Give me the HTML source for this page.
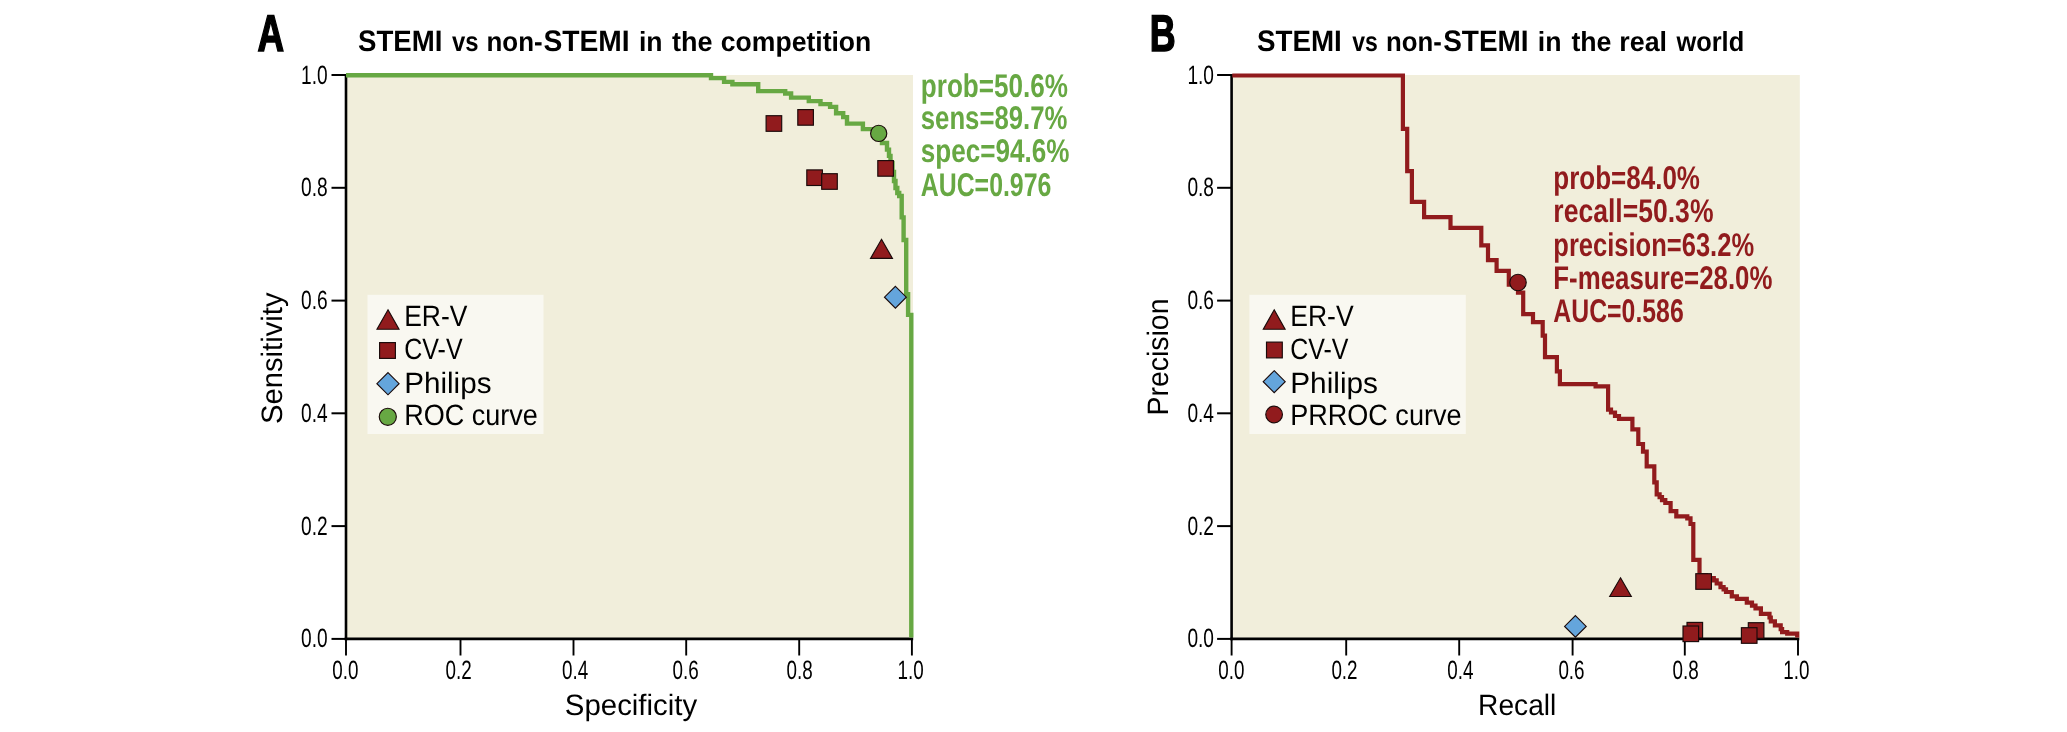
<!DOCTYPE html>
<html><head><meta charset="utf-8"><title>STEMI ROC / PR curves</title>
<style>html,body{margin:0;padding:0;background:#fff;}svg{display:block;will-change:transform;text-rendering:geometricPrecision;}</style>
</head><body>
<svg width="2067" height="732" viewBox="0 0 2067 732">
<rect width="2067" height="732" fill="#fff"/>
<rect x="347.0" y="75" width="566.0" height="562.9" fill="#f1eedb"/>
<rect x="367.5" y="294.8" width="176" height="139.2" fill="#f9f8f1"/>
<line x1="346.0" y1="74" x2="346.0" y2="640.2" stroke="#000" stroke-width="2.6"/>
<line x1="344.7" y1="638.9" x2="913.1999999999999" y2="638.9" stroke="#000" stroke-width="2.6"/>
<line x1="331.5" y1="638.9" x2="346.0" y2="638.9" stroke="#000" stroke-width="2"/>
<text x="327.6" y="647.4" font-family='"Liberation Sans", Arial, sans-serif' font-size="26.5" font-weight="normal" fill="#000" text-anchor="end" textLength="26.6" lengthAdjust="spacingAndGlyphs">0.0</text>
<line x1="346.0" y1="638.9" x2="346.0" y2="655.5" stroke="#000" stroke-width="1.9"/>
<text x="345.4" y="679" font-family='"Liberation Sans", Arial, sans-serif' font-size="26.5" font-weight="normal" fill="#000" text-anchor="middle" textLength="26.2" lengthAdjust="spacingAndGlyphs">0.0</text>
<line x1="331.5" y1="526.1" x2="346.0" y2="526.1" stroke="#000" stroke-width="2"/>
<text x="327.6" y="534.6" font-family='"Liberation Sans", Arial, sans-serif' font-size="26.5" font-weight="normal" fill="#000" text-anchor="end" textLength="26.6" lengthAdjust="spacingAndGlyphs">0.2</text>
<line x1="460.5" y1="638.9" x2="460.5" y2="655.5" stroke="#000" stroke-width="1.9"/>
<text x="458.6" y="679" font-family='"Liberation Sans", Arial, sans-serif' font-size="26.5" font-weight="normal" fill="#000" text-anchor="middle" textLength="26.2" lengthAdjust="spacingAndGlyphs">0.2</text>
<line x1="331.5" y1="413.3" x2="346.0" y2="413.3" stroke="#000" stroke-width="2"/>
<text x="327.6" y="421.8" font-family='"Liberation Sans", Arial, sans-serif' font-size="26.5" font-weight="normal" fill="#000" text-anchor="end" textLength="26.6" lengthAdjust="spacingAndGlyphs">0.4</text>
<line x1="573.5" y1="638.9" x2="573.5" y2="655.5" stroke="#000" stroke-width="1.9"/>
<text x="575.2" y="679" font-family='"Liberation Sans", Arial, sans-serif' font-size="26.5" font-weight="normal" fill="#000" text-anchor="middle" textLength="26.2" lengthAdjust="spacingAndGlyphs">0.4</text>
<line x1="331.5" y1="300.6" x2="346.0" y2="300.6" stroke="#000" stroke-width="2"/>
<text x="327.6" y="309.1" font-family='"Liberation Sans", Arial, sans-serif' font-size="26.5" font-weight="normal" fill="#000" text-anchor="end" textLength="26.6" lengthAdjust="spacingAndGlyphs">0.6</text>
<line x1="686.2" y1="638.9" x2="686.2" y2="655.5" stroke="#000" stroke-width="1.9"/>
<text x="685.6" y="679" font-family='"Liberation Sans", Arial, sans-serif' font-size="26.5" font-weight="normal" fill="#000" text-anchor="middle" textLength="26.2" lengthAdjust="spacingAndGlyphs">0.6</text>
<line x1="331.5" y1="187.8" x2="346.0" y2="187.8" stroke="#000" stroke-width="2"/>
<text x="327.6" y="196.3" font-family='"Liberation Sans", Arial, sans-serif' font-size="26.5" font-weight="normal" fill="#000" text-anchor="end" textLength="26.6" lengthAdjust="spacingAndGlyphs">0.8</text>
<line x1="799.2" y1="638.9" x2="799.2" y2="655.5" stroke="#000" stroke-width="1.9"/>
<text x="799.6" y="679" font-family='"Liberation Sans", Arial, sans-serif' font-size="26.5" font-weight="normal" fill="#000" text-anchor="middle" textLength="26.2" lengthAdjust="spacingAndGlyphs">0.8</text>
<line x1="331.5" y1="75.0" x2="346.0" y2="75.0" stroke="#000" stroke-width="2"/>
<text x="327.6" y="83.5" font-family='"Liberation Sans", Arial, sans-serif' font-size="26.5" font-weight="normal" fill="#000" text-anchor="end" textLength="26.6" lengthAdjust="spacingAndGlyphs">1.0</text>
<line x1="911.9" y1="638.9" x2="911.9" y2="655.5" stroke="#000" stroke-width="1.9"/>
<text x="910.6" y="679" font-family='"Liberation Sans", Arial, sans-serif' font-size="26.5" font-weight="normal" fill="#000" text-anchor="middle" textLength="26.2" lengthAdjust="spacingAndGlyphs">1.0</text>
<path d="M346,75.2 H711 V78.1 H724.1 V81.9 H732.4 V84.3 H758.2 V91.1 H785.2 V93.5 H791.1 V97.6 H808.8 V101.1 H820.5 V104.1 H830.1 V106.9 H836.1 V113.2 H843.2 V117.1 H847 V123.6 H862.9 V129.1 H875 V136 H882 V143 H887 V149.6 H889 V155.9 H890.5 V163 H892.5 V172 H894 V181 H895.5 V188 H897.3 V193 H899.2 V196 H901.7 V217.4 H903.6 V240 H906.2 V294.1 H908.1 V314.9 H911.3 V637.6" fill="none" stroke="#67a843" stroke-width="4.4"/>
<rect x="766.10" y="115.70" width="15.6" height="15.6" fill="#911b1d" stroke="#1a0a0a" stroke-width="1.15"/>
<rect x="797.80" y="109.60" width="15.6" height="15.6" fill="#911b1d" stroke="#1a0a0a" stroke-width="1.15"/>
<rect x="806.80" y="169.90" width="15.6" height="15.6" fill="#911b1d" stroke="#1a0a0a" stroke-width="1.15"/>
<rect x="821.70" y="173.70" width="15.6" height="15.6" fill="#911b1d" stroke="#1a0a0a" stroke-width="1.15"/>
<rect x="877.80" y="160.60" width="15.6" height="15.6" fill="#911b1d" stroke="#1a0a0a" stroke-width="1.15"/>
<path d="M881.5,239.3 L892.45,258.4 L870.55,258.4 Z" fill="#911b1d" stroke="#1a0a0a" stroke-width="1.15" stroke-linejoin="miter"/>
<path d="M895.4,286.3 L906.3,297.2 L895.4,308.09999999999997 L884.5,297.2 Z" fill="#64a5dc" stroke="#1a0a0a" stroke-width="1.15"/>
<circle cx="878.7" cy="133.4" r="8.10" fill="#67a843" stroke="#1a0a0a" stroke-width="1.15"/>
<path d="M388.0,309.8 L399.0,329.2 L377.0,329.2 Z" fill="#911b1d" stroke="#1a0a0a" stroke-width="1.15" stroke-linejoin="miter"/>
<rect x="379.60" y="342.60" width="15.8" height="15.8" fill="#911b1d" stroke="#1a0a0a" stroke-width="1.15"/>
<path d="M388.0,372.59999999999997 L399.1,383.7 L388.0,394.8 L376.9,383.7 Z" fill="#64a5dc" stroke="#1a0a0a" stroke-width="1.15"/>
<circle cx="387.8" cy="416.8" r="8.55" fill="#67a843" stroke="#1a0a0a" stroke-width="1.15"/>
<text x="404.2" y="326.1" font-family='"Liberation Sans", Arial, sans-serif' font-size="29.5" font-weight="normal" fill="#000" text-anchor="start" textLength="63.2" lengthAdjust="spacingAndGlyphs">ER-V</text>
<text x="404.2" y="359.3" font-family='"Liberation Sans", Arial, sans-serif' font-size="29.5" font-weight="normal" fill="#000" text-anchor="start" textLength="58.4" lengthAdjust="spacingAndGlyphs">CV-V</text>
<text x="404.2" y="392.5" font-family='"Liberation Sans", Arial, sans-serif' font-size="29.5" font-weight="normal" fill="#000" text-anchor="start" textLength="87.3" lengthAdjust="spacingAndGlyphs">Philips</text>
<text x="404.2" y="424.9" font-family='"Liberation Sans", Arial, sans-serif' font-size="29.5" font-weight="normal" fill="#000" text-anchor="start" textLength="133.6" lengthAdjust="spacingAndGlyphs">ROC curve</text>
<text x="920.8" y="96.5" font-family='"Liberation Sans", Arial, sans-serif' font-size="32.8" font-weight="bold" fill="#67a843" text-anchor="start" textLength="147.2" lengthAdjust="spacingAndGlyphs">prob=50.6%</text>
<text x="920.8" y="128.9" font-family='"Liberation Sans", Arial, sans-serif' font-size="32.8" font-weight="bold" fill="#67a843" text-anchor="start" textLength="146.6" lengthAdjust="spacingAndGlyphs">sens=89.7%</text>
<text x="920.8" y="162.4" font-family='"Liberation Sans", Arial, sans-serif' font-size="32.8" font-weight="bold" fill="#67a843" text-anchor="start" textLength="148.6" lengthAdjust="spacingAndGlyphs">spec=94.6%</text>
<text x="920.8" y="196.2" font-family='"Liberation Sans", Arial, sans-serif' font-size="32.8" font-weight="bold" fill="#67a843" text-anchor="start" textLength="130.5" lengthAdjust="spacingAndGlyphs">AUC=0.976</text>
<text x="257.6" y="51.0" font-family='"Liberation Sans", Arial, sans-serif' font-size="51.5" font-weight="bold" fill="#000" text-anchor="start" textLength="26.6" lengthAdjust="spacingAndGlyphs" stroke="#000" stroke-width="1.6">A</text>
<text x="357.97" y="50.7" font-family='"Liberation Sans", Arial, sans-serif' font-size="29.6" font-weight="bold" fill="#000" text-anchor="start" textLength="84.41" lengthAdjust="spacingAndGlyphs">STEMI</text>
<text x="452.0" y="50.7" font-family='"Liberation Sans", Arial, sans-serif' font-size="27.6" font-weight="bold" fill="#000" text-anchor="start" textLength="26.57" lengthAdjust="spacingAndGlyphs">vs</text>
<text x="486.52" y="50.7" font-family='"Liberation Sans", Arial, sans-serif' font-size="27.6" font-weight="bold" fill="#000" text-anchor="start" textLength="56.1" lengthAdjust="spacingAndGlyphs">non-</text>
<text x="543.45" y="50.7" font-family='"Liberation Sans", Arial, sans-serif' font-size="29.6" font-weight="bold" fill="#000" text-anchor="start" textLength="86.18" lengthAdjust="spacingAndGlyphs">STEMI</text>
<text x="638.98" y="50.7" font-family='"Liberation Sans", Arial, sans-serif' font-size="27.6" font-weight="bold" fill="#000" text-anchor="start" textLength="23.6" lengthAdjust="spacingAndGlyphs">in</text>
<text x="672.0" y="50.7" font-family='"Liberation Sans", Arial, sans-serif' font-size="27.6" font-weight="bold" fill="#000" text-anchor="start" textLength="40.46" lengthAdjust="spacingAndGlyphs">the</text>
<text x="720.84" y="50.7" font-family='"Liberation Sans", Arial, sans-serif' font-size="27.6" font-weight="bold" fill="#000" text-anchor="start" textLength="150.49" lengthAdjust="spacingAndGlyphs">competition</text>
<text x="564.8" y="714.7" font-family='"Liberation Sans", Arial, sans-serif' font-size="29.5" font-weight="normal" fill="#000" text-anchor="start" textLength="132.4" lengthAdjust="spacingAndGlyphs">Specificity</text>
<text transform="translate(281.8,424) rotate(-90)" font-family='"Liberation Sans", Arial, sans-serif' font-size="29.5" fill="#000" textLength="131.5" lengthAdjust="spacingAndGlyphs">Sensitivity</text>
<rect x="1232.6" y="75" width="567.2" height="562.9" fill="#f1eedb"/>
<rect x="1249.4" y="294.8" width="216.4" height="139.2" fill="#f9f8f1"/>
<line x1="1231.6" y1="74" x2="1231.6" y2="640.2" stroke="#000" stroke-width="2.6"/>
<line x1="1230.3" y1="638.9" x2="1799.3" y2="638.9" stroke="#000" stroke-width="2.6"/>
<line x1="1217.1" y1="638.9" x2="1231.6" y2="638.9" stroke="#000" stroke-width="2"/>
<text x="1214.0" y="647.4" font-family='"Liberation Sans", Arial, sans-serif' font-size="26.5" font-weight="normal" fill="#000" text-anchor="end" textLength="26.6" lengthAdjust="spacingAndGlyphs">0.0</text>
<line x1="1231.6" y1="638.9" x2="1231.6" y2="655.5" stroke="#000" stroke-width="1.9"/>
<text x="1231.3" y="679" font-family='"Liberation Sans", Arial, sans-serif' font-size="26.5" font-weight="normal" fill="#000" text-anchor="middle" textLength="26.2" lengthAdjust="spacingAndGlyphs">0.0</text>
<line x1="1217.1" y1="526.1" x2="1231.6" y2="526.1" stroke="#000" stroke-width="2"/>
<text x="1214.0" y="534.6" font-family='"Liberation Sans", Arial, sans-serif' font-size="26.5" font-weight="normal" fill="#000" text-anchor="end" textLength="26.6" lengthAdjust="spacingAndGlyphs">0.2</text>
<line x1="1346.2" y1="638.9" x2="1346.2" y2="655.5" stroke="#000" stroke-width="1.9"/>
<text x="1344.5" y="679" font-family='"Liberation Sans", Arial, sans-serif' font-size="26.5" font-weight="normal" fill="#000" text-anchor="middle" textLength="26.2" lengthAdjust="spacingAndGlyphs">0.2</text>
<line x1="1217.1" y1="413.3" x2="1231.6" y2="413.3" stroke="#000" stroke-width="2"/>
<text x="1214.0" y="421.8" font-family='"Liberation Sans", Arial, sans-serif' font-size="26.5" font-weight="normal" fill="#000" text-anchor="end" textLength="26.6" lengthAdjust="spacingAndGlyphs">0.4</text>
<line x1="1459.2" y1="638.9" x2="1459.2" y2="655.5" stroke="#000" stroke-width="1.9"/>
<text x="1460.4" y="679" font-family='"Liberation Sans", Arial, sans-serif' font-size="26.5" font-weight="normal" fill="#000" text-anchor="middle" textLength="26.2" lengthAdjust="spacingAndGlyphs">0.4</text>
<line x1="1217.1" y1="300.6" x2="1231.6" y2="300.6" stroke="#000" stroke-width="2"/>
<text x="1214.0" y="309.1" font-family='"Liberation Sans", Arial, sans-serif' font-size="26.5" font-weight="normal" fill="#000" text-anchor="end" textLength="26.6" lengthAdjust="spacingAndGlyphs">0.6</text>
<line x1="1572.6" y1="638.9" x2="1572.6" y2="655.5" stroke="#000" stroke-width="1.9"/>
<text x="1571.5" y="679" font-family='"Liberation Sans", Arial, sans-serif' font-size="26.5" font-weight="normal" fill="#000" text-anchor="middle" textLength="26.2" lengthAdjust="spacingAndGlyphs">0.6</text>
<line x1="1217.1" y1="187.8" x2="1231.6" y2="187.8" stroke="#000" stroke-width="2"/>
<text x="1214.0" y="196.3" font-family='"Liberation Sans", Arial, sans-serif' font-size="26.5" font-weight="normal" fill="#000" text-anchor="end" textLength="26.6" lengthAdjust="spacingAndGlyphs">0.8</text>
<line x1="1684.8" y1="638.9" x2="1684.8" y2="655.5" stroke="#000" stroke-width="1.9"/>
<text x="1685.7" y="679" font-family='"Liberation Sans", Arial, sans-serif' font-size="26.5" font-weight="normal" fill="#000" text-anchor="middle" textLength="26.2" lengthAdjust="spacingAndGlyphs">0.8</text>
<line x1="1217.1" y1="75.0" x2="1231.6" y2="75.0" stroke="#000" stroke-width="2"/>
<text x="1214.0" y="83.5" font-family='"Liberation Sans", Arial, sans-serif' font-size="26.5" font-weight="normal" fill="#000" text-anchor="end" textLength="26.6" lengthAdjust="spacingAndGlyphs">1.0</text>
<line x1="1798.0" y1="638.9" x2="1798.0" y2="655.5" stroke="#000" stroke-width="1.9"/>
<text x="1796.3" y="679" font-family='"Liberation Sans", Arial, sans-serif' font-size="26.5" font-weight="normal" fill="#000" text-anchor="middle" textLength="26.2" lengthAdjust="spacingAndGlyphs">1.0</text>
<path d="M1232.3,75.5 H1402.9 V128.8 H1407.2 V171.1 H1411.9 V201.8 H1424.1 V217.2 H1450.5 V227.8 H1481.3 V245.3 H1488 V260.2 H1496.6 V270.9 H1508.8 V284.7 H1518 V292.6 H1523.2 V314.1 H1533 V322.2 H1542.7 V335.6 H1545 V357.1 H1556.9 V371.3 H1559.9 V384.2 H1595.6 V386.4 H1608.1 V409.7 H1611 V412.5 H1615 V416 H1619 V418.9 H1632.4 V429.3 H1638.3 V444 H1643 V451.7 H1646.7 V466.4 H1654.3 V482.4 H1656.7 V494.4 H1659.6 V497.2 H1662 V500.1 H1665.3 V503 H1670.6 V511.1 H1676.3 V516.4 H1687.3 V518.3 H1690.5 V524 H1693.3 V559.9 H1699.5 V575 H1706 V578 H1713.8 V580.4 H1716.7 V583.5 H1720.5 V587.2 H1723.6 V589.3 H1726 V592 H1731.8 V596.4 H1736.9 V598.8 H1746.8 V602.6 H1752 V605.6 H1755.5 V608.3 H1760.9 V613.8 H1769.5 V617.5 H1770.8 V621.3 H1774.9 V625.4 H1780.7 V629.2 H1782.1 V632.2 H1787.2 V633.6 H1797.2 V637.6" fill="none" stroke="#911b1d" stroke-width="4.2"/>
<path d="M1620.5,577.8 L1631.3,596.5 L1609.7,596.5 Z" fill="#911b1d" stroke="#1a0a0a" stroke-width="1.15" stroke-linejoin="miter"/>
<path d="M1575.4,615.6 L1586.2,626.4 L1575.4,637.1999999999999 L1564.6000000000001,626.4 Z" fill="#64a5dc" stroke="#1a0a0a" stroke-width="1.15"/>
<rect x="1695.80" y="573.70" width="15.6" height="15.6" fill="#911b1d" stroke="#1a0a0a" stroke-width="1.15"/>
<rect x="1687.00" y="622.40" width="15.6" height="15.6" fill="#911b1d" stroke="#1a0a0a" stroke-width="1.15"/>
<rect x="1683.00" y="626.00" width="15.6" height="15.6" fill="#911b1d" stroke="#1a0a0a" stroke-width="1.15"/>
<rect x="1748.30" y="622.70" width="15.6" height="15.6" fill="#911b1d" stroke="#1a0a0a" stroke-width="1.15"/>
<rect x="1741.40" y="627.70" width="15.6" height="15.6" fill="#911b1d" stroke="#1a0a0a" stroke-width="1.15"/>
<circle cx="1518.0" cy="282.5" r="8.25" fill="#911b1d" stroke="#1a0a0a" stroke-width="1.15"/>
<path d="M1274.2,309.8 L1285.1000000000001,329.2 L1263.3,329.2 Z" fill="#911b1d" stroke="#1a0a0a" stroke-width="1.15" stroke-linejoin="miter"/>
<rect x="1266.50" y="342.10" width="15.8" height="15.8" fill="#911b1d" stroke="#1a0a0a" stroke-width="1.15"/>
<path d="M1274.2,370.7 L1285.2,381.7 L1274.2,392.7 L1263.2,381.7 Z" fill="#64a5dc" stroke="#1a0a0a" stroke-width="1.15"/>
<circle cx="1274.1" cy="414.5" r="8.35" fill="#911b1d" stroke="#1a0a0a" stroke-width="1.15"/>
<text x="1290.2" y="326.1" font-family='"Liberation Sans", Arial, sans-serif' font-size="29.5" font-weight="normal" fill="#000" text-anchor="start" textLength="63.4" lengthAdjust="spacingAndGlyphs">ER-V</text>
<text x="1290.2" y="359.3" font-family='"Liberation Sans", Arial, sans-serif' font-size="29.5" font-weight="normal" fill="#000" text-anchor="start" textLength="58.3" lengthAdjust="spacingAndGlyphs">CV-V</text>
<text x="1290.2" y="392.5" font-family='"Liberation Sans", Arial, sans-serif' font-size="29.5" font-weight="normal" fill="#000" text-anchor="start" textLength="87.8" lengthAdjust="spacingAndGlyphs">Philips</text>
<text x="1290.2" y="424.9" font-family='"Liberation Sans", Arial, sans-serif' font-size="29.5" font-weight="normal" fill="#000" text-anchor="start" textLength="171.3" lengthAdjust="spacingAndGlyphs">PRROC curve</text>
<text x="1553.3" y="188.9" font-family='"Liberation Sans", Arial, sans-serif' font-size="32.8" font-weight="bold" fill="#911b1d" text-anchor="start" textLength="146.7" lengthAdjust="spacingAndGlyphs">prob=84.0%</text>
<text x="1553.3" y="221.9" font-family='"Liberation Sans", Arial, sans-serif' font-size="32.8" font-weight="bold" fill="#911b1d" text-anchor="start" textLength="160.2" lengthAdjust="spacingAndGlyphs">recall=50.3%</text>
<text x="1553.3" y="255.8" font-family='"Liberation Sans", Arial, sans-serif' font-size="32.8" font-weight="bold" fill="#911b1d" text-anchor="start" textLength="200.79999999999998" lengthAdjust="spacingAndGlyphs">precision=63.2%</text>
<text x="1553.3" y="289.0" font-family='"Liberation Sans", Arial, sans-serif' font-size="32.8" font-weight="bold" fill="#911b1d" text-anchor="start" textLength="219.2" lengthAdjust="spacingAndGlyphs">F-measure=28.0%</text>
<text x="1553.3" y="322.2" font-family='"Liberation Sans", Arial, sans-serif' font-size="32.8" font-weight="bold" fill="#911b1d" text-anchor="start" textLength="130.4" lengthAdjust="spacingAndGlyphs">AUC=0.586</text>
<text x="1149.8" y="51.0" font-family='"Liberation Sans", Arial, sans-serif' font-size="51.5" font-weight="bold" fill="#000" text-anchor="start" textLength="25.9" lengthAdjust="spacingAndGlyphs" stroke="#000" stroke-width="1.6">B</text>
<text x="1256.96" y="50.7" font-family='"Liberation Sans", Arial, sans-serif' font-size="29.6" font-weight="bold" fill="#000" text-anchor="start" textLength="84.82" lengthAdjust="spacingAndGlyphs">STEMI</text>
<text x="1352.2" y="50.7" font-family='"Liberation Sans", Arial, sans-serif' font-size="27.6" font-weight="bold" fill="#000" text-anchor="start" textLength="25.62" lengthAdjust="spacingAndGlyphs">vs</text>
<text x="1386.03" y="50.7" font-family='"Liberation Sans", Arial, sans-serif' font-size="27.6" font-weight="bold" fill="#000" text-anchor="start" textLength="55.78" lengthAdjust="spacingAndGlyphs">non-</text>
<text x="1443.16" y="50.7" font-family='"Liberation Sans", Arial, sans-serif' font-size="29.6" font-weight="bold" fill="#000" text-anchor="start" textLength="85.45" lengthAdjust="spacingAndGlyphs">STEMI</text>
<text x="1537.87" y="50.7" font-family='"Liberation Sans", Arial, sans-serif' font-size="27.6" font-weight="bold" fill="#000" text-anchor="start" textLength="23.71" lengthAdjust="spacingAndGlyphs">in</text>
<text x="1571.4" y="50.7" font-family='"Liberation Sans", Arial, sans-serif' font-size="27.6" font-weight="bold" fill="#000" text-anchor="start" textLength="40.05" lengthAdjust="spacingAndGlyphs">the</text>
<text x="1619.36" y="50.7" font-family='"Liberation Sans", Arial, sans-serif' font-size="27.6" font-weight="bold" fill="#000" text-anchor="start" textLength="47.69" lengthAdjust="spacingAndGlyphs">real</text>
<text x="1676.4" y="50.7" font-family='"Liberation Sans", Arial, sans-serif' font-size="27.6" font-weight="bold" fill="#000" text-anchor="start" textLength="67.77" lengthAdjust="spacingAndGlyphs">world</text>
<text x="1478.1" y="714.8" font-family='"Liberation Sans", Arial, sans-serif' font-size="29.5" font-weight="normal" fill="#000" text-anchor="start" textLength="78.2" lengthAdjust="spacingAndGlyphs">Recall</text>
<text transform="translate(1168.2,415.5) rotate(-90)" font-family='"Liberation Sans", Arial, sans-serif' font-size="29.5" fill="#000" textLength="117" lengthAdjust="spacingAndGlyphs">Precision</text>
</svg>
</body></html>
